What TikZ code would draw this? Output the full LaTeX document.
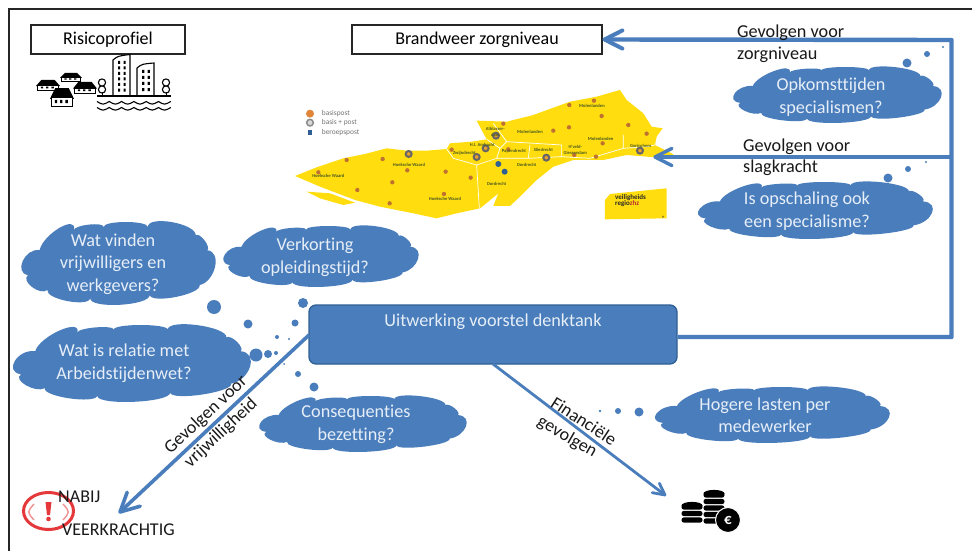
\documentclass[tikz,border=0pt]{standalone}
\usepackage{fontspec}
\setmainfont{Carlito}[Ligatures=NoCommon]
\usetikzlibrary{calc}
\definecolor{cblue}{HTML}{4A7DBB}
\definecolor{cdark}{HTML}{2F5F94}
\definecolor{ctext}{HTML}{E6EEF8}
\definecolor{myellow}{HTML}{FFDD0F}
\definecolor{mred}{HTML}{E5383B}
\definecolor{mgreen}{HTML}{4A5A20}
\definecolor{morange}{HTML}{E0853A}
\tikzset{
  titlebox/.style={draw=black!85,line width=1.1pt,fill=white,font=\fontsize{18}{20}\selectfont,inner sep=0pt},
  cloudtxt/.style={text=ctext,align=center,font=\fontsize{18.2}{22.5}\selectfont,inner sep=0pt},
  lbl/.style={text=black!90,font=\fontsize{18.2}{22}\selectfont,inner sep=0pt,anchor=west},
  rlbl/.style={text=black!90,font=\fontsize{18}{20}\selectfont,inner sep=0pt},
  flowline/.style={draw=cblue,line width=4.4pt},
  flowthin/.style={draw=cblue,line width=3.4pt},
  bubdot/.style={fill=cblue,draw=none},
  mlabel/.style={text=mgreen,font=\fontsize{4.6}{5}\selectfont\bfseries,inner sep=0pt},
  legend/.style={text=black!55,font=\fontsize{7.4}{8}\selectfont,inner sep=0pt,anchor=west},
}
\newcommand{\cloudbub}[4]{%
  \pgfmathsetmacro{\cw}{#3-#1}\pgfmathsetmacro{\ch}{#4-#2}%
  \begin{scope}[shift={(#1,#2)},xscale=\cw,yscale=\ch]
  \fill[cblue] (.086,.34) .. controls (.106,.14) and (.285,-.10) .. (.265,.10)
    .. controls (.265,.035) and (.42,-.005) .. (.42,.06)
    .. controls (.42,-.02) and (.65,-.02) .. (.65,.06)
    .. controls (.65,-.085) and (.90,.015) .. (.90,.16)
    .. controls (.92,.12) and (.98,.30) .. (.96,.34)
    .. controls (1.04,.36) and (1.0,.72) .. (.92,.76)
    .. controls (.93,.87) and (.67,.99) .. (.66,.88)
    .. controls (.66,1.01) and (.35,1.05) .. (.35,.92)
    .. controls (.34,1.03) and (.117,.93) .. (.127,.82)
    .. controls (.087,.89) and (-.014,.71) .. (.026,.64)
    .. controls (-.05,.61) and (.01,.31) .. cycle;
  \end{scope}}
\newcommand{\house}[4]{% x y w h
  \begin{scope}[shift={(#1,#2)},xscale=#3,yscale=#4]
  \fill[black] (0,.6) -- (.22,0) -- (.78,0) -- (1,.6) -- cycle;
  \draw[black,line width=.9pt,fill=white] (.07,.55) rectangle (.93,1);
  \fill[black] (.2,.66) rectangle (.3,.84) (.42,.66) rectangle (.52,.84) (.64,.66) rectangle (.74,.84);
  \end{scope}}
\newcommand{\barbtip}[4]{% tip angle length width
  \draw[draw=cblue,line width=#4,line cap=round,line join=round]
    ($(#1)+(#2+27:#3)$) -- (#1) -- ($(#1)+(#2-27:#3)$);}
\begin{document}
\begin{tikzpicture}[x=1pt,y=-1pt]
\useasboundingbox (0,0) rectangle (972,551);
\fill[white] (0,0) rectangle (972,551);
% frame
\draw[black!85,line width=1.8pt] (972,9) -- (9,9) -- (9,551);

% title boxes
\node[titlebox,minimum width=154pt,minimum height=29pt] (risk) at (108,39.5) {Risicoprofiel};
\node[titlebox,minimum width=250pt,minimum height=29pt] (bw) at (477,39.5) {Brandweer zorgniveau};

% city icon
\draw[black,line width=1.1pt,fill=white] (113,95) -- (113,60) .. controls (118,56) .. (130,54.5) -- (130,95);
\draw[black,line width=1.1pt,fill=white] (137,95) -- (137,68) .. controls (142,64) .. (154,63) -- (154,95);
\foreach \yy in {61,66.5,72,77.5,83,88.5}{
  \fill[black] (118,\yy) rectangle (120,\yy+3) (123.5,\yy) rectangle (125.5,\yy+3);}
\foreach \yy in {70,76,82,88}{
  \fill[black] (142,\yy) rectangle (144.3,\yy+3) (147.5,\yy) rectangle (149.8,\yy+3);}
\foreach \xx in {102,166}{
  \draw[black,line width=1.1pt,fill=white] (\xx,82.5) circle (3.6) (\xx,89.5) circle (3.6);
  \draw[black,line width=1pt] (\xx,92) -- (\xx,96);}
\draw[black,line width=1.2pt] (97,96) -- (171,96);
\foreach \yy in {101.5,107.5}{
  \draw[black,line width=1.1pt] (97,\yy) \foreach \k in {0,...,5}{ .. controls ({97+\k*12.3+6},{\yy+3.5}) .. ({97+(\k+1)*12.3},\yy)};}
\house{60}{73}{22}{8}
\house{36}{80}{24}{10}
\house{73}{82}{24}{11}
\house{50}{88}{24}{18}

% map
\begin{scope}[shift={(280,80)},scale=.3333]
\fill[myellow] (45,288) -- (110,262) -- (190,235) -- (255,222) -- (320,205) -- (380,212) -- (440,212) -- (500,207) -- (510,190) -- (575,185) -- (620,178) -- (590,122) -- (680,125) -- (760,105) -- (870,65) -- (950,50) -- (1020,30) -- (1040,60) -- (1090,100) -- (1115,140) -- (1148,145) -- (1130,170) -- (1125,195) -- (1175,220) -- (1190,232) -- (1125,232) -- (1040,225) -- (970,240) -- (880,240) -- (820,260) -- (770,300) -- (720,350) -- (690,378) -- (640,378) -- (655,340) -- (625,365) -- (600,385) -- (530,400) -- (470,415) -- (400,400) -- (300,380) -- (225,360) -- (120,320) -- cycle;
\fill[myellow] (80,335) -- (150,340) -- (225,368) -- (190,375) -- (120,355) -- cycle;
\draw[white,line width=.7pt] (590,255) -- (598,385)
  (500,207) -- (520,235) -- (590,255) -- (650,235) -- (660,205) -- (620,178)
  (660,205) -- (680,185) -- (640,130)
  (680,185) -- (845,195) -- (845,230)
  (650,235) -- (745,235) -- (750,195)
  (745,235) -- (845,230) -- (930,235)
  (1030,165) -- (1030,205) -- (1100,200) -- (1125,195)
  (930,235) -- (1030,205);
% legend
\fill[morange] (90,101) circle (12);
\draw[black!45,line width=1.5pt,fill=black!15] (90,128) circle (10);
\fill[cdark] (83,151) rectangle (97,165);
\node[legend] (leg1) at (125,101) {basispost};
\node[legend] (leg2) at (125,129) {basis + post};
\node[legend] (leg3) at (125,158) {beroepspost};
% posts
\foreach \px/\py in {200/240,308/237,115/277,382/271,497/275,337/307,232/330,329/370,492/342,572/293,515/209,670/131,820/152,867/142,868/75,942/62,965/108,1045/135,1100/161,968/190,883/225,948/230,685/208}{
  \fill[morange!85!black] (\px,\py) circle (6.5);}
\foreach \px/\py in {386/222,590/231,617/205,648/167,799/233,1080/212}{
  \draw[black!60,line width=2pt,fill=morange!70!myellow] (\px,\py) circle (9);}
\fill[cdark] (655,252) circle (9) (674,275) circle (9);
\node[mlabel] (m1) at (145,288) {Hoeksche Waard};
\node[mlabel] (m2) at (387,254) {Hoeksche Waard};
\node[mlabel] (m3) at (495,357) {Hoeksche Waard};
\node[mlabel] (m4) at (553,221) {Zwijndrecht};
\node[mlabel] (m5) at (607,194) {H.I. Ambacht};
\node[mlabel] (m6) at (646,155) {\shortstack{Alblasser-\\dam}};
\node[mlabel] (m7) at (702,215) {Papendrecht};
\node[mlabel] (m8) at (740,256) {Dordrecht};
\node[mlabel] (m9) at (650,312) {Dordrecht};
\node[mlabel] (m10) at (790,211) {Sliedrecht};
\node[mlabel] (m11) at (886,209) {\shortstack{H'veld-\\Giessendam}};
\node[mlabel] (m12) at (750,155) {Molenlanden};
\node[mlabel] (m13) at (962,178) {Molenlanden};
\node[mlabel] (m14) at (936,77) {Molenlanden};
\node[mlabel] (m15) at (1082,197) {Gorinchem};
% logo
\fill[myellow] (990,342) -- (1160,325) -- (1160,415) -- (975,418) -- (975,360) -- cycle;
\node[anchor=west,inner sep=0pt,align=left,font=\fontsize{7}{6.6}\selectfont\bfseries,text=black!85] (logo) at (1005,362) {veiligheids\\regio\textcolor{mred!80!black}{zhz}};
\node[inner sep=0pt,font=\fontsize{5}{5}\selectfont\bfseries,text=black!75] (logo2) at (1150,412) {>>};
\end{scope}

% main box
\node[draw=cdark,line width=1.3pt,fill=cblue,rounded corners=7pt,minimum width=368pt,minimum height=59pt,inner sep=0pt] (uw) at (493,334.5) {};
\node[text=ctext,font=\fontsize{18.2}{20}\selectfont,inner sep=0pt] (uwt) at (493,322) {Uitwerking voorstel denktank};

% connectors
\coordinate (cbot) at (951.5,337);
\coordinate (ctop) at (951.5,40);
\coordinate (cmid) at (951.5,157);
\coordinate (mapend) at (655,157);
\coordinate (uwr) at (uw.east |- cbot);
\coordinate (uwl) at (309,335);
\coordinate (uwb) at (493,364);
\coordinate (alert) at (120,512);
\coordinate (coins) at (665,495);
\coordinate (bwtip) at ($(bw.east)+(2,0)$);
\draw[flowline,line join=round] (uwr) -- (cbot) -- (ctop) -- (bwtip);
\barbtip{bwtip}{0}{20}{4pt}
\draw[flowthin] (cmid) -- (mapend);
\barbtip{mapend}{0}{19}{3.4pt}
\draw[draw=cblue,line width=3.6pt] (uwl) -- (alert);
\barbtip{alert}{-43}{21}{3.6pt}
\draw[draw=cblue,line width=2.8pt] (uwb) -- (coins);
\barbtip{coins}{217.3}{13}{2.8pt}

% clouds
\cloudbub{23}{222}{215}{305}
\node[cloudtxt] (c1) at (113,264) {Wat vinden\\vrijwilligers en\\werkgevers?};
\cloudbub{225}{226}{418}{287}
\node[cloudtxt] (c2) at (315,257) {Verkorting\\opleidingstijd?};
\cloudbub{15}{325}{250}{402}
\node[cloudtxt] (c3) at (124,363) {Wat is relatie met\\Arbeidstijdenwet?};
\cloudbub{261}{396}{466}{452}
\node[cloudtxt] (c4) at (356,424.5) {Consequenties\\bezetting?};
\cloudbub{657}{387}{889}{443}
\node[cloudtxt] (c5) at (765,415) {Hogere lasten per\\medewerker};
\cloudbub{735}{67}{941}{123}
\node[cloudtxt] (c6) at (831,97) {Opkomsttijden\\specialismen?};
\cloudbub{700}{182}{932}{239}
\node[cloudtxt] (c7) at (807,211) {Is opschaling ook\\een specialisme?};

% bubbles
\foreach \bx/\by/\br in {214/307/7,248/324/4.5,256/355/6.5,268/354/4,276/353/2,277/337/2,289/339/1.2,295/323/3.5,303/303/5,284/364/1,298/374/3,314/387/4.5,639/412/4.5,618/411/3,600/411/1.3,907/63/4.5,927/54/3,943/47/1.2,888/178/4.5,908/169/3,926/162/1.2}{
  \fill[bubdot] (\bx,\by) circle (\br);}

% labels
\node[lbl] (l1) at (737,32.5) {Gevolgen voor};
\node[lbl] (l2) at (737,55) {zorgniveau};
\node[lbl] (l3) at (743,146.5) {Gevolgen voor};
\node[lbl] (l4) at (743,168) {slagkracht};
\node[rlbl,rotate=43] (l5) at (206,415) {Gevolgen voor};
\node[rlbl,rotate=43] (l6) at (221,433) {vrijwilligheid};
\node[rlbl,rotate=-33] (l7) at (584,421) {Financiële};
\node[rlbl,rotate=-30] (l8) at (567,437) {gevolgen};

% alert icon
\draw[mred,line width=3pt] (48.5,511) ellipse (25 and 18.5);
\draw[mred!55,line width=1.4pt] (34,504) .. controls (27,512) .. (34,520);
\draw[mred!55,line width=1.4pt] (63,504) .. controls (70,512) .. (63,520);
\fill[mred] (45.5,502) -- (51.5,502) -- (50,515) -- (47,515) -- cycle;
\fill[mred] (48.5,519) circle (2.3);
\node[rlbl,anchor=west] (n1) at (58,497) {NABIJ};
\node[rlbl,anchor=west] (n2) at (62,529.5) {VEERKRACHTIG};

% coins
\foreach \cx/\cy in {692/507,692/513.5,692/520,714/495,714/501.5,714/508,714/514.5,714/521}{
  \fill[black,rounded corners=2.4pt] (\cx-10.5,\cy-2.6) rectangle (\cx+10.5,\cy+2.6);}
\fill[black] (692,505.5) ellipse (10.5 and 3.6) (714,493.5) ellipse (10.5 and 3.6);
\draw[white,line width=1pt,fill=black] (728,520) circle (12.5);
\node[text=white,font=\fontsize{15}{15}\selectfont\bfseries,inner sep=0pt] (euro) at (728,520) {€};
\end{tikzpicture}
\end{document}
